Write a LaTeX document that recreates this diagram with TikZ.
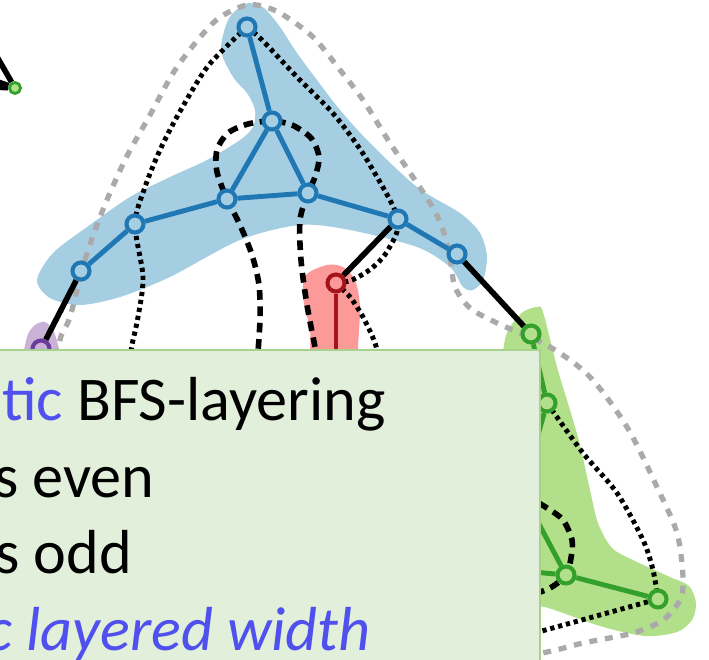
\documentclass[tikz,border=0pt]{standalone}
\usepackage{fontspec}
\setmainfont{Carlito}

\definecolor{lblue}{HTML}{A6CEE3}
\definecolor{dblue}{HTML}{1F78B4}
\definecolor{lgreen}{HTML}{B2DF8A}
\definecolor{dgreen}{HTML}{33A02C}
\definecolor{lred}{HTML}{FB9A99}
\definecolor{dred}{HTML}{A5141A}
\definecolor{lpurple}{HTML}{CAB2D6}
\definecolor{dpurple}{HTML}{6A3D9A}
\definecolor{hullgray}{HTML}{AAAAAA}
\definecolor{boxfill}{HTML}{E2EFDA}
\definecolor{boxline}{HTML}{A9D18E}
\definecolor{tblue}{HTML}{5050EE}

\pgfdeclarelayer{bg}
\pgfdeclarelayer{fg}
\pgfsetlayers{bg,main,fg}

\begin{document}
\begin{tikzpicture}[x=0.02cm,y=-0.02cm,
  vx/.style={circle,draw,line width=2.3pt,minimum size=0.34cm,inner sep=0pt},
  tree/.style={line width=2.8pt},
  cut/.style={line width=3.2pt},
  dots/.style={line width=2.8pt,dash pattern=on 2.4pt off 2.2pt},
  dashes/.style={line width=3.2pt,dash pattern=on 5.5pt off 3.8pt},
  hull/.style={hullgray,line width=3pt,dash pattern=on 4.5pt off 4.5pt},
  txt/.style={anchor=base west,inner sep=0pt,font=\fontsize{35.4}{42}\selectfont}]
\useasboundingbox (0,0) rectangle (709,659);

% even layer
\node[vx,draw=dblue,fill=lblue] (b1) at (247,27) {};
\node[vx,draw=dblue,fill=lblue] (b2) at (272,121) {};
\node[vx,draw=dblue,fill=lblue] (b3) at (227,199) {};
\node[vx,draw=dblue,fill=lblue] (b4) at (308,193) {};
\node[vx,draw=dblue,fill=lblue] (b5) at (135,224) {};
\node[vx,draw=dblue,fill=lblue] (b6) at (81,271) {};
\node[vx,draw=dblue,fill=lblue] (b7) at (398,219) {};
\node[vx,draw=dblue,fill=lblue] (b8) at (457,254) {};

% odd layers
\node[vx,draw=dred,fill=lred] (r1) at (336,283) {};
\node[vx,draw=dpurple,fill=lpurple] (p1) at (41,349) {};
\node[vx,draw=dgreen,fill=lgreen] (g1) at (531,334) {};
\node[vx,draw=dgreen,fill=lgreen] (g2) at (547,403) {};
\node[vx,draw=dgreen,fill=lgreen] (g3) at (566,575) {};
\node[vx,draw=dgreen,fill=lgreen] (g4) at (658,599) {};
\node[circle,draw=dgreen,fill=lgreen,line width=1.6pt,minimum size=0.22cm,inner sep=0pt] (s1) at (15,88) {};

\coordinate (g5) at (522,492);
\coordinate (g6) at (490,568);
\coordinate (r2) at (336,380);
\coordinate (x1) at (-15,36);
\coordinate (x2) at (-30,72);
\coordinate (x3) at (-30,86);

\begin{pgfonlayer}{bg}
% blobs
\fill[lblue] plot[smooth cycle,tension=0.5] coordinates {(250,3) (264,8) (280,27)
  (297,53) (317,80) (340,110) (370,143) (417,187) (460,213) (480,233) (487,257)
  (483,280) (473,290) (463,287) (450,267) (417,247) (350,230) (300,225) (240,240)
  (170,277) (120,297) (80,305) (50,298) (37,280) (53,253) (87,227) (130,197)
  (170,177) (207,160) (240,140) (253,127) (255,110) (247,93) (233,77) (221,50)
  (228,20) (240,7)};
\fill[lred] plot[smooth cycle,tension=0.5] coordinates {(327,265) (343,267)
  (355,280) (360,307) (358,347) (358,375) (314,375) (310,330) (303,297) (306,275)};
\fill[lpurple] plot[smooth cycle,tension=0.5] coordinates {(25,365) (27,337)
  (35,325) (45,322) (53,330) (58,345) (60,365)};
\fill[lgreen] plot[smooth cycle,tension=0.5] coordinates {(537,307) (543,312)
  (557,367) (570,410) (580,445) (590,490) (598,523) (612,548) (635,561) (670,577)
  (689,586) (696,603) (692,620) (677,632) (645,636) (600,626) (545,607) (505,600)
  (500,400) (504,345) (510,327) (523,312)};

% outer hull
\draw[hull] plot[smooth cycle,tension=0.5] coordinates {(70,317) (85,260) (102,212)
  (125,160) (150,115) (177,67) (213,23) (240,7) (257,5) (280,13) (313,37) (340,70)
  (363,100) (390,143) (430,203) (443,230) (450,258) (455,287) (470,308) (497,323)
  (550,347) (590,377) (627,427) (657,487) (677,533) (683,577) (680,600) (663,620)
  (633,633) (583,643) (547,652) (460,668) (300,630) (100,490) (55,390) (60,340)};

% cycles
\draw[dots] plot[smooth] coordinates {(b1) (228,45) (205,70) (178,115) (160,150)
  (145,187) (b5) (143,277) (138,317) (132,345) (128,370)};
\draw[dots] plot[smooth] coordinates {(b1) (262,40) (297,77) (330,110) (350,135)
  (370,165) (b7) (388,250) (372,268) (352,280) (r1)};
\draw[dots] plot[smooth] coordinates {(r1) (350,297) (363,317) (375,343) (382,370)};
\draw[dots] plot[smooth] coordinates {(g2) (583,453) (617,493) (643,540) (653,570) (g4)};
\draw[dots] (g4) -- (480,648);
\draw[dashes] plot[smooth] coordinates {(257,365) (260,320) (259,285) (252,255)
  (240,225) (b3) (217,172) (217,150) (228,133) (248,124) (b2) (292,125) (311,138)
  (319,157) (315,177) (b4) (300,220) (301,260) (307,305) (315,347) (318,365)};
\draw[dashes] plot[smooth] coordinates {(525,495) (547,508) (563,520) (572,540)
  (571,558) (g3) (550,588) (525,597)};

% BFS edges
\draw[tree,dblue] (b1) -- (b2);
\draw[tree,dblue] (b2) -- (b3);
\draw[tree,dblue] (b2) -- (b4);
\draw[tree,dblue] (b3) -- (b4);
\draw[tree,dblue] (b3) -- (b5);
\draw[tree,dblue] (b5) -- (b6);
\draw[tree,dblue] (b4) -- (b7);
\draw[tree,dblue] (b7) -- (b8);
\draw[tree,dred] (r1) -- (r2);
\draw[tree,dgreen] (g1) -- (g2);
\draw[tree,dgreen] (g2) -- (g5);
\draw[tree,dgreen] (g3) -- (g5);
\draw[tree,dgreen] (g3) -- (g6);
\draw[tree,dgreen] (g3) -- (g4);
\draw[cut] (b6) -- (p1);
\draw[cut] (b7) -- (r1);
\draw[cut] (b8) -- (g1);
\draw[cut] (s1) -- (x1);
\draw[cut] (s1) -- (x2);
\draw[cut] (s1) -- (x3);
\end{pgfonlayer}

\begin{pgfonlayer}{fg}
\draw[draw=boxline,fill=boxfill,line width=0.8pt] (-20,350) rectangle (540,680);
\node[txt] (t1) at (2,420) {\textcolor{tblue}{tic} BFS-layering};
\node[txt] (t2) at (-6,497) {s even};
\node[txt] (t3) at (-5,573) {s odd};
\node[txt,text=tblue,font=\fontsize{35.4}{42}\selectfont\itshape] (t4) at (-14,650) {c layered width};
\end{pgfonlayer}
\end{tikzpicture}
\end{document}
